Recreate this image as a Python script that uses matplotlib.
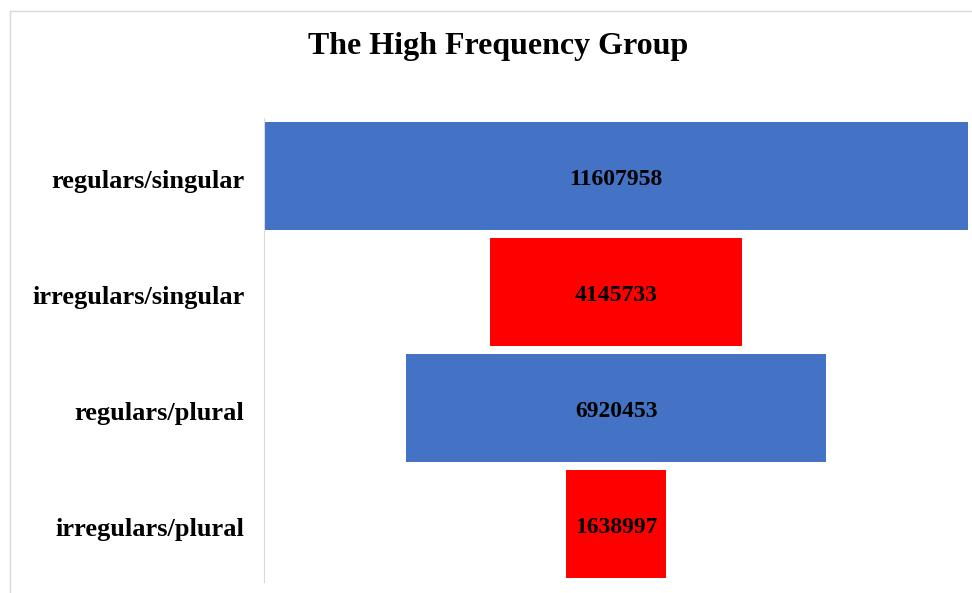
import matplotlib.pyplot as plt
from matplotlib.lines import Line2D

# funnel data
categories = ['regulars/singular', 'irregulars/singular', 'regulars/plural', 'irregulars/plural']
values = [11607958, 4145733, 6920453, 1638997]
colors = ['#4472C4', '#FF0000', '#4472C4', '#FF0000']

plt.rcParams['font.family'] = ['Liberation Serif', 'DejaVu Serif']

fig = plt.figure(figsize=(9.72, 5.93), dpi=100)
ax = fig.add_axes([264/972, 1 - 582/593, 704/972, 464/593])

# centre each bar to get the funnel shape
lefts = [-v / 2 for v in values]
ax.barh(range(len(values)), values, left=lefts, height=0.93, color=colors)

for i, v in enumerate(values):
    ax.text(0, i + 0.03, str(v), ha='center', va='center', fontsize=17, fontweight='bold', color='black')

ax.set_xlim(-max(values) / 2, max(values) / 2)
ax.set_ylim(3.5, -0.5)
ax.set_yticks([i + 0.03 for i in range(len(categories))])
ax.set_yticklabels(categories, fontsize=19, fontweight='bold')
ax.tick_params(axis='y', length=0, pad=14)
ax.set_xticks([])
for s in ['top', 'right', 'bottom']:
    ax.spines[s].set_visible(False)
ax.spines['left'].set_color('#d9d9d9')

fig.text(0.512, 0.921, 'The High Frequency Group', ha='center', va='center',
         fontsize=23, fontweight='bold')

# light grey chart frame
fig.add_artist(Line2D([10/972, 1], [1 - 11/593, 1 - 11/593], color='#d9d9d9', lw=1))
fig.add_artist(Line2D([10/972, 10/972], [0, 1 - 11/593], color='#d9d9d9', lw=1))

fig.savefig('out.png')
